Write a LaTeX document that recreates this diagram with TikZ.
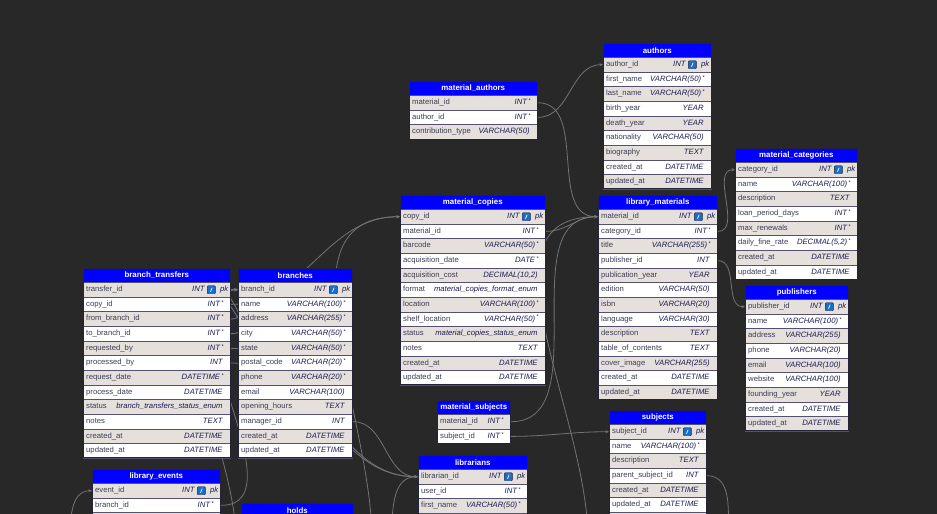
\documentclass[tikz,border=0pt]{standalone}
\usepackage{fontspec}
\setmainfont{Liberation Sans}
\usetikzlibrary{arrows.meta,calc}
\definecolor{bgc}{RGB}{40,40,40}
\definecolor{hdrblue}{RGB}{0,0,255}
\definecolor{rowgray}{RGB}{229,224,220}
\definecolor{rowline}{RGB}{85,80,110}
\definecolor{framec}{RGB}{35,35,60}
\definecolor{fncol}{RGB}{60,60,85}
\definecolor{ftcol}{RGB}{28,28,80}
\definecolor{linkc}{RGB}{115,115,115}
\definecolor{keyblue}{RGB}{25,110,200}
\pgfdeclarelayer{bglayer}
\pgfsetlayers{bglayer,main}
\tikzset{
 hdr/.style={fill=hdrblue, draw=framec, line width=0.6pt, minimum height=14pt, inner sep=0pt, text=white, font=\fontsize{7.9}{8}\selectfont\bfseries},
 rowbox/.style={draw=rowline, line width=0.8pt, minimum height=14.65pt, inner sep=0pt},
 fname/.style={text=fncol, font=\fontsize{7.7}{8}\selectfont, inner sep=0pt, text height=5.5pt, text depth=1.6pt},
 ftype/.style={text=ftcol, font=\fontsize{7.7}{8}\selectfont\itshape, inner sep=0pt, text height=5.5pt, text depth=1.6pt},
 conn/.style={draw=linkc, line width=0.8pt},
 fk/.style={conn, -{Stealth[length=3.5pt,width=3pt]}},
}
\def\tagS{s}
\def\tagP{p}
% #1 id, #2 x, #3 ytop, #4 width, #5 nrows (frame), #6 title, #7 rows
\newcommand\ertbl[7]{%
 \node[hdr, minimum width=#4pt, anchor=north west] (#1) at (#2,-#3) {#6};
 \foreach [count=\i] \fn/\ft/\fs in {#7} {%
   \pgfmathsetmacro\yy{#3+14+(\i-1)*14.65}
   \ifodd\i \def\rc{rowgray}\else\def\rc{white}\fi
   \node[rowbox, fill=\rc, minimum width=#4pt, anchor=north west] (#1-\i) at (#2,-\yy) {};
   \node[fname, anchor=west] at ([xshift=3pt]#1-\i.west) {\fn};
   \edef\tmp{\fs}%
   \ifx\tmp\tagP
     \node[ftype, anchor=east] at ([xshift=-26pt]#1-\i.east) {\ft};
     \node[fill=keyblue, draw=framec, line width=0.4pt, minimum size=8pt, inner sep=0pt, rounded corners=0.8pt] (#1-\i-k) at ([xshift=-19.5pt]#1-\i.east) {};
     \draw[white, line width=0.7pt] ([xshift=-0.8pt,yshift=-2pt]#1-\i-k.center) -- ([xshift=0.8pt,yshift=2pt]#1-\i-k.center);
     \node[ftype, anchor=west] at ([xshift=-11pt]#1-\i.east) {pk};
   \else\ifx\tmp\tagS
     \node[ftype, anchor=east] at ([xshift=-10.5pt]#1-\i.east) {\ft};
     \node[ftype, anchor=west, font=\fontsize{5.5}{5.5}\selectfont, text height=3pt, text depth=0pt] at ([xshift=-9.5pt,yshift=1.8pt]#1-\i.east) {*};
   \else
     \node[ftype, anchor=east] at ([xshift=-8pt]#1-\i.east) {\ft};
   \fi\fi
 }
 \draw[draw=framec, line width=0.9pt] (#2,-#3) rectangle (#2+#4, -#3-14-#5*14.65);
}
\begin{document}
\begin{tikzpicture}[x=1pt,y=1pt]
\useasboundingbox (0,0) rectangle (937,-514);
\clip (0,0) rectangle (937,-514);

\ertbl{ma}{409}{81}{128}{3}{material\_authors}{material\_id/INT/s, author\_id/INT/s, contribution\_type/{VARCHAR(50)}/n}

\ertbl{au}{603}{43}{108}{9}{authors}{author\_id/INT/p, first\_name/{VARCHAR(50)}/s, last\_name/{VARCHAR(50)}/s, birth\_year/YEAR/n, death\_year/YEAR/n, nationality/{VARCHAR(50)}/n, biography/TEXT/n, created\_at/DATETIME/n, updated\_at/DATETIME/n}

\ertbl{cat}{735}{148}{122}{8}{material\_categories}{category\_id/INT/p, name/{VARCHAR(100)}/s, description/TEXT/n, loan\_period\_days/INT/s, max\_renewals/INT/s, daily\_fine\_rate/{DECIMAL(5,2)}/s, created\_at/DATETIME/n, updated\_at/DATETIME/n}

\ertbl{mc}{400}{195}{145}{12}{material\_copies}{copy\_id/INT/p, material\_id/INT/s, barcode/{VARCHAR(50)}/s, acquisition\_date/DATE/s, acquisition\_cost/{DECIMAL(10,2)}/n, format/material\_copies\_format\_enum/n, location/{VARCHAR(100)}/s, shelf\_location/{VARCHAR(50)}/s, status/material\_copies\_status\_enum/n, notes/TEXT/n, created\_at/DATETIME/n, updated\_at/DATETIME/n}

\ertbl{lm}{598}{195}{119}{13}{library\_materials}{material\_id/INT/p, category\_id/INT/s, title/{VARCHAR(255)}/s, publisher\_id/INT/n, publication\_year/YEAR/n, edition/{VARCHAR(50)}/n, isbn/{VARCHAR(20)}/n, language/{VARCHAR(30)}/n, description/TEXT/n, table\_of\_contents/TEXT/n, cover\_image/{VARCHAR(255)}/n, created\_at/DATETIME/n, updated\_at/DATETIME/n}

\ertbl{pub}{745}{285}{103}{9}{publishers}{publisher\_id/INT/p, name/{VARCHAR(100)}/s, address/{VARCHAR(255)}/n, phone/{VARCHAR(20)}/n, email/{VARCHAR(100)}/n, website/{VARCHAR(100)}/n, founding\_year/YEAR/n, created\_at/DATETIME/n, updated\_at/DATETIME/n}

\ertbl{bt}{83}{268}{147}{12}{branch\_transfers}{transfer\_id/INT/p, copy\_id/INT/s, from\_branch\_id/INT/s, to\_branch\_id/INT/s, requested\_by/INT/s, processed\_by/INT/n, request\_date/DATETIME/s, process\_date/DATETIME/n, status/branch\_transfers\_status\_enum/n, notes/TEXT/n, created\_at/DATETIME/n, updated\_at/DATETIME/n}

\ertbl{br}{238}{268}{114}{12}{branches}{branch\_id/INT/p, name/{VARCHAR(100)}/s, address/{VARCHAR(255)}/s, city/{VARCHAR(50)}/s, state/{VARCHAR(50)}/s, postal\_code/{VARCHAR(20)}/s, phone/{VARCHAR(20)}/s, email/{VARCHAR(100)}/n, opening\_hours/TEXT/n, manager\_id/INT/n, created\_at/DATETIME/n, updated\_at/DATETIME/n}

\ertbl{ms}{437}{400}{73}{2}{material\_subjects}{material\_id/INT/s, subject\_id/INT/s}

\ertbl{lib}{418}{455}{109}{4}{librarians}{librarian\_id/INT/p, user\_id/INT/s, first\_name/{VARCHAR(50)}/s, {}/{}/n}

\ertbl{sub}{609}{410}{97}{7}{subjects}{subject\_id/INT/p, name/{VARCHAR(100)}/s, description/TEXT/n, parent\_subject\_id/INT/n, created\_at/DATETIME/n, updated\_at/DATETIME/n, {}/{}/n}

\ertbl{ev}{92}{469}{128}{3}{library\_events}{event\_id/INT/p, branch\_id/INT/s, {}/{}/n}

\ertbl{ho}{241}{503}{112}{1}{holds}{{}/{}/n}

\coordinate (o1) at (372,-540);
\coordinate (o2) at (392,-540);
\coordinate (o3) at (588,-540);
\coordinate (o4) at (70,-540);
\coordinate (o5) at (728,-540);
\coordinate (o6) at (236,-540);

\begin{pgfonlayer}{bglayer}
\fill[bgc] (0,0) rectangle (937,-514);
\draw[fk] (ma-1.east) to[out=0,in=180] (lm-1.west);
\draw[fk] (ma-2.east) to[out=0,in=180] (au-1.west);
\draw[fk] (mc-2.east) to[out=0,in=180] (lm-1.west);
\draw[fk] (lm-2.east) to[out=0,in=180] (cat-1.west);
\draw[fk] (lm-4.east) to[out=0,in=180] (pub-1.west);
\draw[fk] (ms-1.east) to[out=0,in=180] (lm-1.west);
\draw[fk] (ms-2.east) to[out=0,in=180] (sub-1.west);
\draw[fk] (bt-2.east) to[out=0,in=180] (mc-1.west);
\draw[fk] (bt-3.east) to[out=0,in=180,looseness=2] (br-1.west);
\draw[fk] (bt-4.east) to[out=0,in=180,looseness=2] (br-1.west);
\draw[fk] (bt-5.east) to[out=0,in=180] (lib-1.west);
\draw[fk] (bt-6.east) to[out=0,in=180] (lib-1.west);
\draw[fk] (br-10.east) to[out=0,in=180] (lib-1.west);
\draw[fk] (ev-2.east) to[out=0,in=180] (br-1.west);
\draw[fk] (o1) to[out=90,in=180] (mc-1.west);
\draw[fk] (o2) to[out=90,in=180] (lib-1.west);
\draw[fk] (o3) to[out=90,in=180] (lm-1.west);
\draw[fk] (o4) to[out=90,in=180] (ev-1.west);
\draw[conn] (sub-4.east) to[out=0,in=90] (o5);
\draw[fk] (o6) to[out=90,in=180] (br-1.west);
\end{pgfonlayer}
\end{tikzpicture}
\end{document}
